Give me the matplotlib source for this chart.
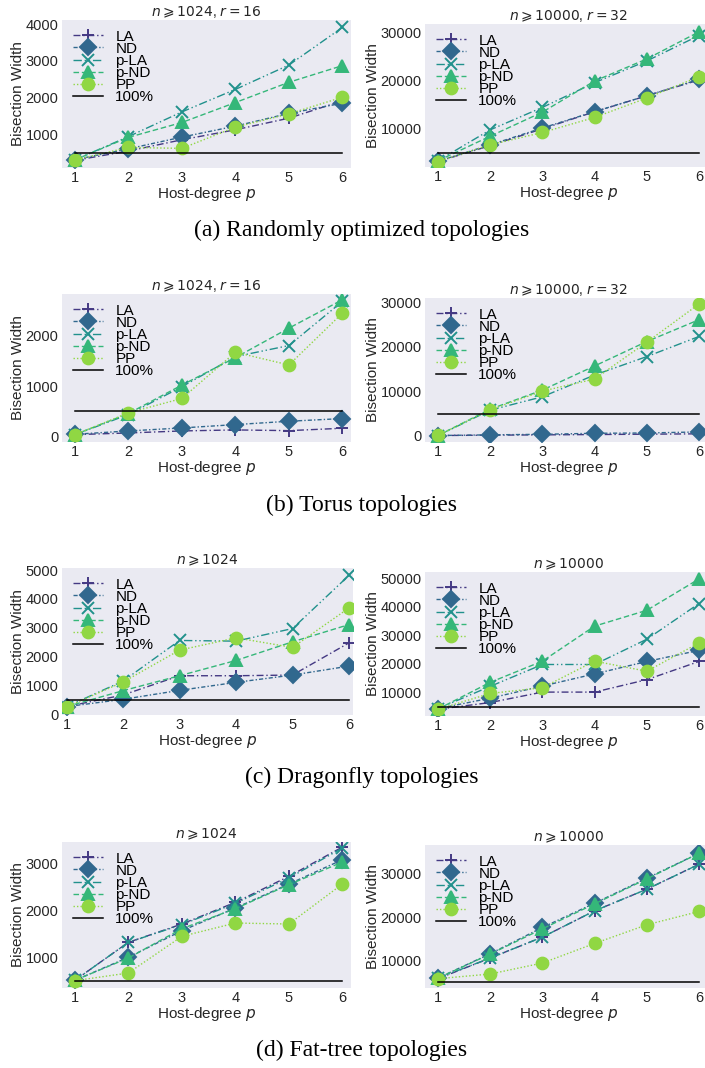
import matplotlib.pyplot as plt
import numpy as np

plt.rcParams['font.family'] = ['Liberation Sans', 'DejaVu Sans']
plt.rcParams['mathtext.fontset'] = 'dejavusans'

W, H = 705, 1068

# host degree p on the x axis
p = [1, 2, 3, 4, 5, 6]
series = ["LA", "ND", "p-LA", "p-ND", "PP"]

# bisection width per topology family and size
rand_1024 = {
    "LA": [306, 560, 865, 1135, 1450, 1920],
    "ND": [324, 620, 937, 1235, 1580, 1856],
    "p-LA": [320, 950, 1620, 2230, 2890, 3910],
    "p-ND": [320, 930, 1333, 1874, 2423, 2874],
    "PP": [315, 658, 631, 1207, 1567, 2018],
}
rand_10000 = {
    "LA": [3125, 6450, 9930, 13470, 16800, 20070],
    "ND": [3200, 6600, 10100, 13500, 16800, 20200],
    "p-LA": [3300, 9720, 14380, 19510, 24030, 29300],
    "p-ND": [3300, 8400, 13400, 19860, 24440, 30070],
    "PP": [3125, 6600, 9170, 12290, 16320, 20760],
}
torus_1024 = {
    "LA": [46, 79, 119, 139, 125, 172],
    "ND": [53, 119, 178, 244, 310, 363],
    "p-LA": [46, 442, 990, 1584, 1802, 2673],
    "p-ND": [46, 462, 1023, 1564, 2145, 2706],
    "PP": [46, 475, 759, 1670, 1419, 2442],
}
torus_10000 = {
    "LA": [100, 180, 250, 320, 400, 480],
    "ND": [100, 250, 375, 600, 675, 900],
    "p-LA": [100, 5780, 8780, 13650, 17780, 22280],
    "p-ND": [100, 6000, 10280, 15680, 21150, 26030],
    "PP": [150, 5850, 10050, 12750, 21000, 29550],
}
dfly_1024 = {
    "LA": [265, 668, 1336, 1336, 1360, 2477],
    "ND": [265, 518, 829, 1106, 1360, 1670],
    "p-LA": [265, 1150, 2558, 2535, 2972, 4816],
    "p-ND": [265, 818, 1336, 1866, 2511, 3110],
    "PP": [253, 1117, 2223, 2650, 2316, 3687],
}
dfly_10000 = {
    "LA": [4120, 6470, 10120, 10120, 14470, 20820],
    "ND": [4350, 8000, 12240, 16470, 20820, 24710],
    "p-LA": [4350, 12120, 19770, 19770, 28590, 41060],
    "p-ND": [4200, 13530, 20940, 33180, 38710, 49650],
    "PP": [4120, 9650, 11650, 20940, 17410, 27290],
}
ftree_1024 = {
    "LA": [528, 1331, 1718, 2176, 2725, 3345],
    "ND": [528, 1014, 1577, 2056, 2563, 3077],
    "p-LA": [528, 1331, 1704, 2155, 2690, 3324],
    "p-ND": [528, 1000, 1620, 2042, 2549, 3028],
    "PP": [521, 683, 1458, 1739, 1718, 2563],
}
ftree_10000 = {
    "LA": [5770, 10540, 15390, 21460, 26460, 32230],
    "ND": [5920, 11540, 17620, 23230, 29000, 34770],
    "p-LA": [5900, 10540, 15390, 21460, 26460, 32230],
    "p-ND": [5900, 11460, 17300, 23080, 28850, 34770],
    "PP": [5770, 6850, 9390, 13920, 18230, 21310],
}
# 100% reference: half of the hosts
full_1024 = 512
full_10000 = 5000

captions = ["(a) Randomly optimized topologies", "(b) Torus topologies",
            "(c) Dragonfly topologies", "(d) Fat-tree topologies"]

colors = {"LA": "#443983", "ND": "#31688e", "p-LA": "#21918c",
          "p-ND": "#35b779", "PP": "#90d743"}
markers = {"LA": "+", "ND": "D", "p-LA": "x", "p-ND": "^", "PP": "o"}
styles = {"LA": (0, (5, 2, 1, 2)), "ND": (0, (3, 1.5, 1, 1.5)),
          "p-LA": (0, (6, 2, 1, 2, 1, 2)), "p-ND": (0, (4, 2)),
          "PP": (0, (1, 1.5))}

FS = 11


def add_ax(fig, x0, y0, x1, y1):
    return fig.add_axes([x0 / W, 1 - y1 / H, (x1 - x0) / W, (y1 - y0) / H])


def draw(ax, data, full, title, xlim, ylim, yticks, size_px):
    ax.set_facecolor("#eaeaf2")
    for s in ax.spines.values():
        s.set_visible(False)
    for name in series:
        ax.plot(p, data[name], color=colors[name], marker=markers[name],
                linestyle=styles[name], linewidth=1.0, markersize=8.5,
                markeredgewidth=1.4, label=name)
    ax.plot([p[0], p[-1]], [full, full], color="black", linewidth=1.1,
            label="100%")
    ax.set_xlim(*xlim)
    ax.set_ylim(*ylim)
    ax.set_xticks(p)
    ax.set_yticks(yticks)
    ax.tick_params(length=0, pad=2.5, labelsize=10.5, colors="#262626")
    ax.set_title(title, fontsize=10, pad=3, color="#262626")
    ax.set_xlabel("Host-degree $p$", fontsize=FS, labelpad=0, color="#262626")
    ax.set_ylabel("Bisection Width", fontsize=FS, labelpad=0.5, color="#262626")
    # legend anchored a few pixels in from the top-left corner
    w_px, h_px = size_px
    ax.legend(loc="upper left", bbox_to_anchor=(6 / w_px, 1 - 5 / h_px),
              frameon=False, fontsize=FS, labelspacing=-0.12,
              handlelength=2.0, handletextpad=0.8, borderaxespad=0,
              borderpad=0.3)


fig = plt.figure(figsize=(W / 100, H / 100), dpi=100)

t_1024_r = r"$n{\geqslant}1024$, $r = 16$"
t_10000_r = r"$n{\geqslant}10000$, $r = 32$"
t_1024 = r"$n{\geqslant}1024$"
t_10000 = r"$n{\geqslant}10000$"

rows = [
    (rand_1024, rand_10000, t_1024_r, t_10000_r,
     (0.76, 6.16), (100, 4110), [1000, 2000, 3000, 4000],
     (2000, 31700), [10000, 20000, 30000], (20, 168), (24, 167), 230),
    (torus_1024, torus_10000, t_1024_r, t_10000_r,
     (0.76, 6.16), (-99, 2818), [0, 1000, 2000],
     (-1350, 30900), [0, 10000, 20000, 30000], (294, 442), (298, 442), 505),
    (dfly_1024, dfly_10000, t_1024, t_10000,
     (0.92, 6.07), (-25, 5070), [0, 1000, 2000, 3000, 4000, 5000],
     (1765, 52100), [10000, 20000, 30000, 40000, 50000], (568, 715), (572, 716), 777),
    (ftree_1024, ftree_10000, t_1024, t_10000,
     (0.76, 6.16), (366, 3451), [1000, 2000, 3000],
     (3615, 36690), [10000, 20000, 30000], (842, 988), (845, 988), 1050),
]

for i, (d_small, d_large, t_small, t_large, xl, yl_s, yt_s, yl_l, yt_l,
        span_l, span_r, cap_y) in enumerate(rows):
    x1_left = 353 if i == 2 else 351
    ax_l = add_ax(fig, 62, span_l[0], x1_left, span_l[1])
    draw(ax_l, d_small, full_1024, t_small, xl, yl_s, yt_s,
         (x1_left - 62, span_l[1] - span_l[0]))
    ax_r = add_ax(fig, 425, span_r[0], 712, span_r[1])
    draw(ax_r, d_large, full_10000, t_large, (0.75, 6.25), yl_l, yt_l,
         (712 - 425, span_r[1] - span_r[0]))
    fig.text(362 / W, 1 - cap_y / H, captions[i], ha="center", va="center",
             fontsize=17, family="Liberation Serif", color="black")

fig.savefig("out.png", dpi=100)
